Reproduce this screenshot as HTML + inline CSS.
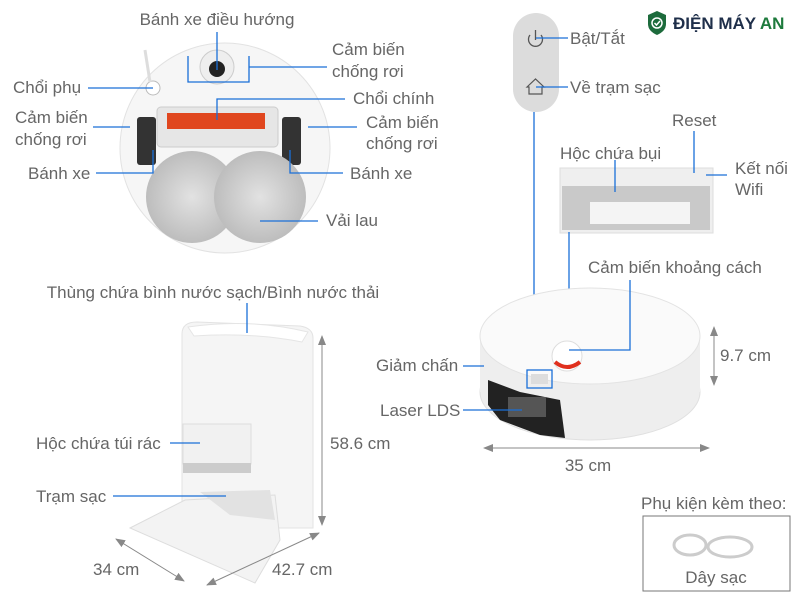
<!DOCTYPE html>
<html><head><meta charset="utf-8"><style>
html,body{margin:0;padding:0;background:#fff;}
svg{display:block}
text{font-family:"Liberation Sans",sans-serif;font-size:17px;fill:#666;}
</style></head><body>
<svg width="800" height="600" viewBox="0 0 800 600" xmlns="http://www.w3.org/2000/svg">
<defs>
<marker id="ar" markerWidth="10" markerHeight="8" refX="9" refY="4" orient="auto-start-reverse"><path d="M0,0 L10,4 L0,8 Z" fill="#888"/></marker>
<radialGradient id="mop" cx="50%" cy="50%" r="50%"><stop offset="0" stop-color="#e2e2e2"/><stop offset="1" stop-color="#bdbdbd"/></radialGradient>
</defs>

<!-- TOP ROBOT (bottom view) -->
<circle cx="225" cy="148" r="105" fill="#f6f6f6" stroke="#e2e2e2"/>
<circle cx="217" cy="67" r="17" fill="#eee" stroke="#ccc"/>
<circle cx="217" cy="69" r="8" fill="#222"/>
<rect x="157" y="107" width="121" height="40" rx="4" fill="#e6e6e6" stroke="#ccc"/>
<rect x="167" y="113" width="98" height="16" fill="#e0461e"/>
<rect x="137" y="117" width="19" height="48" rx="3" fill="#333"/>
<rect x="282" y="117" width="19" height="48" rx="3" fill="#333"/>
<circle cx="153" cy="88" r="7" fill="#fff" stroke="#bbb"/>
<line x1="150" y1="82" x2="145" y2="50" stroke="#ddd" stroke-width="3"/>
<circle cx="192" cy="197" r="46" fill="url(#mop)"/>
<circle cx="260" cy="197" r="46" fill="url(#mop)"/>

<g stroke="#1a6fd8" stroke-width="1.3" fill="none">
<line x1="217" y1="32" x2="217" y2="70"/>
<polyline points="188,56 188,82 249,82 249,56"/>
<line x1="249" y1="67" x2="327" y2="67"/>
<line x1="88" y1="88" x2="153" y2="88"/>
<polyline points="217,120 217,99 345,99"/>
<line x1="93" y1="127" x2="130" y2="127"/>
<line x1="308" y1="127" x2="357" y2="127"/>
<polyline points="153,150 153,173 96,173"/>
<polyline points="290,150 290,173 343,173"/>
<line x1="260" y1="221" x2="318" y2="221"/>
</g>
<text x="217" y="25" text-anchor="middle">Bánh xe điều hướng</text>
<text x="332" y="55">Cảm biến</text>
<text x="332" y="77">chống rơi</text>
<text x="13" y="93">Chổi phụ</text>
<text x="353" y="104">Chổi chính</text>
<text x="15" y="123">Cảm biến</text>
<text x="15" y="145">chống rơi</text>
<text x="366" y="128">Cảm biến</text>
<text x="366" y="149">chống rơi</text>
<text x="28" y="179">Bánh xe</text>
<text x="350" y="179">Bánh xe</text>
<text x="326" y="226">Vải lau</text>

<!-- REMOTE PILL -->
<rect x="513" y="13" width="46" height="99" rx="23" fill="#dcdcdc"/>
<path d="M530,35 A7,7 0 1 0 541,35" fill="none" stroke="#555" stroke-width="1.3"/>
<line x1="535.5" y1="30" x2="535.5" y2="40" stroke="#555" stroke-width="1.3"/>
<path d="M527,87 L535.5,79 L544,87 L542,87 L542,94 L529,94 L529,87 Z" fill="none" stroke="#555" stroke-width="1.2"/>
<g stroke="#1a6fd8" stroke-width="1.3" fill="none">
<line x1="536" y1="38" x2="568" y2="38"/>
<line x1="536" y1="87" x2="568" y2="87"/>
<line x1="534" y1="112" x2="534" y2="370"/>
</g>
<text x="570" y="44">Bật/Tắt</text>
<text x="570" y="93">Về trạm sạc</text>

<!-- LOGO -->
<path d="M657,11 L666,15 L666,24 Q666,31 657,35 Q648,31 648,24 L648,15 Z" fill="#1d6b3c"/>
<circle cx="657" cy="23" r="5" fill="none" stroke="#fff" stroke-width="1.5"/>
<path d="M654.5,23 L656.5,25 L660,21" fill="none" stroke="#fff" stroke-width="1.5"/>
<text x="673" y="29" style="font-weight:bold;font-size:17px;fill:#1f2f4a">ĐIỆN MÁY <tspan style="fill:#1d7a3c">AN</tspan></text>

<!-- DUSTBIN -->
<rect x="560" y="168" width="153" height="65" fill="#efefef" stroke="#ddd"/>
<rect x="562" y="186" width="148" height="44" fill="#c9c9c9"/>
<rect x="590" y="202" width="100" height="22" fill="#f4f4f4"/>
<g stroke="#1a6fd8" stroke-width="1.3" fill="none">
<line x1="615" y1="160" x2="615" y2="192"/>
<line x1="694" y1="131" x2="694" y2="173"/>
<line x1="706" y1="175" x2="727" y2="175"/>
<line x1="569" y1="232" x2="569" y2="313"/>
</g>
<text x="560" y="159">Hộc chứa bụi</text>
<text x="672" y="126">Reset</text>
<text x="735" y="174">Kết nối</text>
<text x="735" y="195">Wifi</text>
<text x="588" y="273">Cảm biến khoảng cách</text>

<!-- SIDE ROBOT -->
<ellipse cx="590" cy="392" rx="110" ry="48" fill="#eeeeee" stroke="#e0e0e0"/>
<rect x="480" y="336" width="220" height="56" fill="#eeeeee"/>
<ellipse cx="590" cy="336" rx="110" ry="48" fill="#fafafa" stroke="#e3e3e3"/>
<path d="M488,380 L520,392 L560,400 L565,438 L540,435 L500,420 L488,405 Z" fill="#222"/>
<rect x="508" y="397" width="38" height="20" fill="#555"/>
<circle cx="567" cy="356" r="15" fill="#fff" stroke="#ddd"/>
<path d="M555,362 Q567,372 580,362" fill="none" stroke="#e0301e" stroke-width="4"/>
<g stroke="#1a6fd8" stroke-width="1.3" fill="none">
<rect x="527" y="370" width="25" height="18"/>
<rect x="531" y="374" width="17" height="10" fill="#ddd" stroke="none"/>
<polyline points="630,280 630,350 569,350"/>
<line x1="463" y1="366" x2="484" y2="366"/>
<line x1="463" y1="410" x2="522" y2="410"/>
</g>
<text x="376" y="371">Giảm chấn</text>
<text x="380" y="416">Laser LDS</text>
<line x1="484" y1="448" x2="709" y2="448" stroke="#888" stroke-width="1" marker-start="url(#ar)" marker-end="url(#ar)"/>
<text x="588" y="471" text-anchor="middle">35 cm</text>
<line x1="714" y1="327" x2="714" y2="385" stroke="#888" stroke-width="1" marker-start="url(#ar)" marker-end="url(#ar)"/>
<text x="720" y="361">9.7 cm</text>

<!-- STATION -->
<path d="M182,334 Q182,322 197,322 L300,326 Q313,328 313,338 L313,528 L260,528 L182,505 Z" fill="#f5f5f5" stroke="#e3e3e3"/>
<path d="M188,327 Q250,318 308,332 L302,342 Q250,332 194,336 Z" fill="#fff" stroke="#e5e5e5"/>
<rect x="183" y="424" width="68" height="40" fill="#f1f1f1" stroke="#ddd"/>
<rect x="183" y="463" width="68" height="10" fill="#ccc"/>
<path d="M130,528 L185,500 L275,495 L280,540 L255,583 Z" fill="#f3f3f3" stroke="#ddd"/>
<path d="M200,492 L270,490 L275,520 L230,515 Z" fill="#e2e2e2"/>
<g stroke="#1a6fd8" stroke-width="1.3" fill="none">
<line x1="247" y1="303" x2="247" y2="333"/>
<line x1="170" y1="443" x2="200" y2="443"/>
<line x1="113" y1="496" x2="226" y2="496"/>
</g>
<text x="213" y="298" text-anchor="middle">Thùng chứa bình nước sạch/Bình nước thải</text>
<text x="36" y="449">Hộc chứa túi rác</text>
<text x="36" y="502">Trạm sạc</text>
<line x1="322" y1="336" x2="322" y2="525" stroke="#888" stroke-width="1" marker-start="url(#ar)" marker-end="url(#ar)"/>
<text x="330" y="449">58.6 cm</text>
<line x1="116" y1="539" x2="184" y2="581" stroke="#888" stroke-width="1" marker-start="url(#ar)" marker-end="url(#ar)"/>
<line x1="207" y1="585" x2="319" y2="533" stroke="#888" stroke-width="1" marker-start="url(#ar)" marker-end="url(#ar)"/>
<text x="93" y="575">34 cm</text>
<text x="272" y="575">42.7 cm</text>

<!-- ACCESSORY -->
<text x="641" y="509">Phụ kiện kèm theo:</text>
<rect x="643" y="516" width="147" height="75" fill="#fff" stroke="#777"/>
<ellipse cx="690" cy="545" rx="16" ry="10" fill="none" stroke="#ccc" stroke-width="3"/>
<ellipse cx="730" cy="547" rx="22" ry="10" fill="none" stroke="#ccc" stroke-width="3"/>
<text x="716" y="583" text-anchor="middle">Dây sạc</text>
</svg>
</body></html>
